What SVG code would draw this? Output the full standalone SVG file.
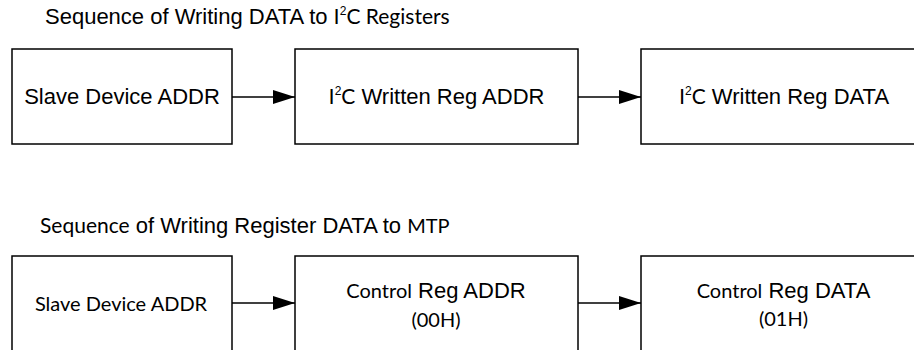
<svg xmlns="http://www.w3.org/2000/svg" width="914" height="350" viewBox="0 0 914 350">
<defs>
<style>
.box{fill:#fff;stroke:#000;stroke-width:1.5}
.ar{font-family:"Liberation Sans",Arial,sans-serif;font-size:22px;fill:#000}
.cb{font-family:Lato,"Open Sans",sans-serif;font-size:21px;fill:#000}
.cs{font-family:Lato,"Open Sans",sans-serif;font-size:20px;fill:#000}
.sup{font-family:"Liberation Sans",Arial,sans-serif;font-size:12px}
.conn{stroke:#000;stroke-width:1.5;fill:none}
</style>
<marker id="ah" markerWidth="22" markerHeight="14" refX="22" refY="7" orient="auto" markerUnits="userSpaceOnUse">
<path d="M0,0 L22,7 L0,14 Z" fill="#000"/>
</marker>
</defs>
<rect width="914" height="350" fill="#fff"/>

<text class="ar" x="45" y="24">Sequence of Writing DATA to I<tspan class="sup" dy="-9">2</tspan><tspan class="cb" dy="9">C Registers</tspan></text>

<g id="n1">
<rect class="box" x="12" y="49" width="220" height="95"/>
<text class="ar" x="122" y="104" text-anchor="middle">Slave Device ADDR</text>
</g>
<g id="n2">
<rect class="box" x="295" y="49" width="283" height="95"/>
<text class="ar" x="436.5" y="104" text-anchor="middle">I<tspan class="sup" dy="-9">2</tspan><tspan class="cb" dy="9">C</tspan> Written Reg ADDR</text>
</g>
<g id="n3">
<rect class="box" x="641" y="49" width="283" height="95"/>
<text class="ar" x="784" y="104" text-anchor="middle">I<tspan class="sup" dy="-9">2</tspan><tspan class="cb" dy="9">C</tspan> Written Reg DATA</text>
</g>

<text class="ar" x="40" y="233"><tspan class="cb">Sequence</tspan> of Writing Register DATA to <tspan class="cs">MTP</tspan></text>

<g id="n4">
<rect class="box" x="12" y="256" width="220" height="110"/>
<text class="cs" x="121" y="311" text-anchor="middle">Slave Device ADDR</text>
</g>
<g id="n5">
<rect class="box" x="295" y="256" width="283" height="110"/>
<text class="ar" x="436" y="298" text-anchor="middle"><tspan class="cs">Control</tspan> Reg ADDR</text>
<text class="cs" x="436" y="327" text-anchor="middle">(00H)</text>
</g>
<g id="n6">
<rect class="box" x="641" y="256" width="283" height="110"/>
<text class="ar" x="783.5" y="298" text-anchor="middle"><tspan class="cs">Control</tspan> Reg DATA</text>
<text class="cs" x="783.5" y="326" text-anchor="middle">(01H)</text>
</g>

<g id="connectors">
<line class="conn" x1="232" y1="97" x2="295" y2="97" marker-end="url(#ah)"/>
<line class="conn" x1="578" y1="97" x2="641" y2="97" marker-end="url(#ah)"/>
<line class="conn" x1="232" y1="303" x2="295" y2="303" marker-end="url(#ah)"/>
<line class="conn" x1="578" y1="303" x2="641" y2="303" marker-end="url(#ah)"/>
</g>
</svg>
